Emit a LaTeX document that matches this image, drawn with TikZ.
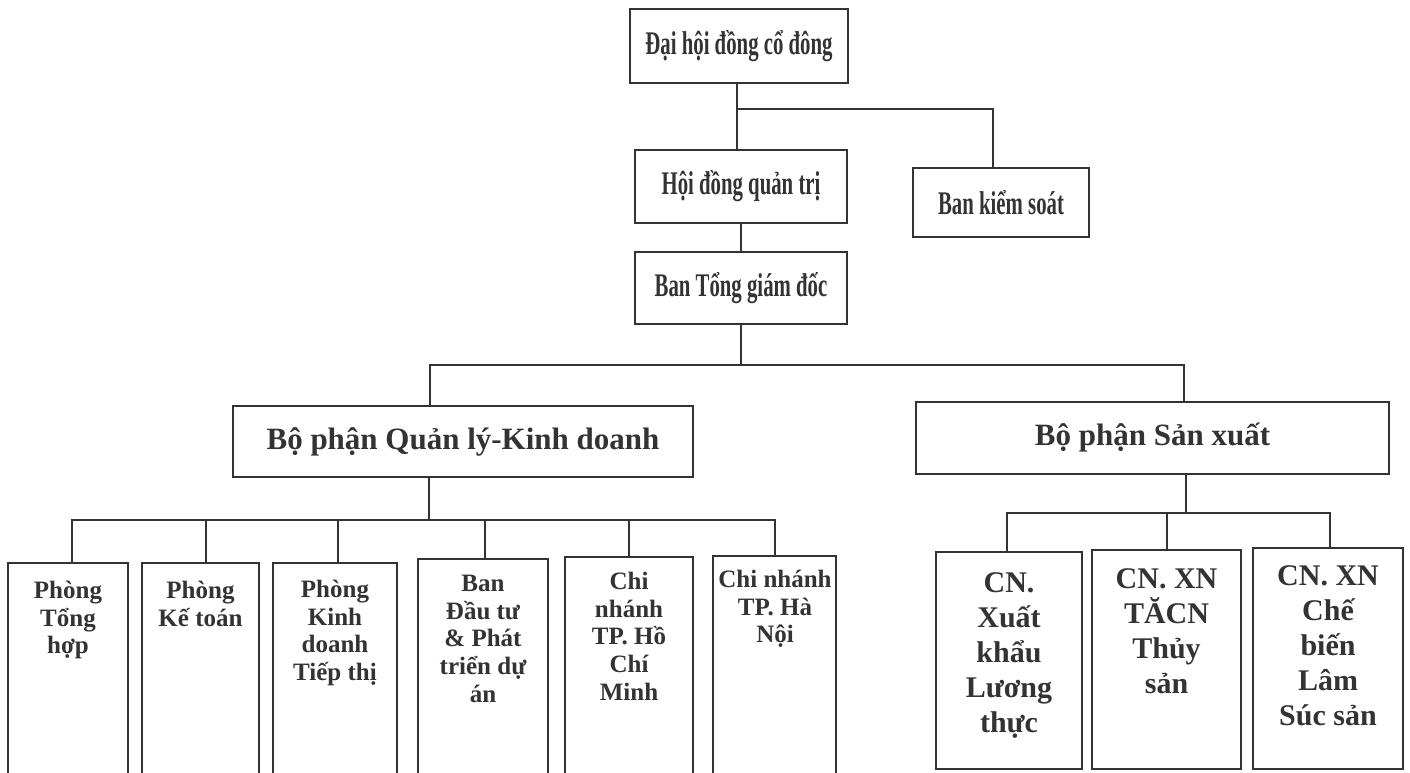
\documentclass[tikz,border=0pt]{standalone}
\usepackage{fontspec}
\setmainfont{Liberation Serif}
\usepackage{graphicx}
\usetikzlibrary{calc}
\definecolor{ink}{HTML}{333333}
\tikzset{
  box/.style={draw=ink, line width=2pt, inner sep=0pt, text=ink},
  conn/.style={draw=ink, line width=2pt},
  toptxt/.style={font=\bfseries\fontsize{33}{37}\selectfont},
  midtxt/.style={font=\bfseries\fontsize{31}{35}\selectfont},
  smalltxt/.style={text=ink, align=center, inner sep=0pt, anchor=north,
                   font=\bfseries\fontsize{25}{27.7}\selectfont},
  bigtxt/.style={text=ink, align=center, inner sep=0pt, anchor=north,
                 font=\bfseries\fontsize{30}{35}\selectfont},
}
\newcommand{\cnd}[1]{\scalebox{0.63}[1]{#1}}
\begin{document}
\begin{tikzpicture}[x=1pt,y=-1pt]
\useasboundingbox (0,0) rectangle (1410,773);
\clip (0,0) rectangle (1410,773);
\fill[white] (0,0) rectangle (1410,773);

% upper tier
\node[box, toptxt, minimum width=218, minimum height=74] (dh) at (739,46) {\cnd{Đại hội đồng cổ đông}};
\node[box, toptxt, minimum width=212, minimum height=73] (hd) at (741,186.5) {\cnd{Hội đồng quản trị}};
\node[box, toptxt, minimum width=176, minimum height=69] (bks) at (1001,202.5) {\cnd{Ban kiểm soát}};
\node[box, toptxt, minimum width=212, minimum height=72] (btg) at (741,288) {\cnd{Ban Tổng giám đốc}};

% middle tier
\node[box, midtxt, minimum width=460, minimum height=71] (qlkd) at (463,441.5) {Bộ phận Quản lý-Kinh doanh};
\node[box, midtxt, minimum width=473, minimum height=72] (sx) at (1152.5,438) {Bộ phận Sản xuất};

% lower tier, left
\node[box, minimum width=120, minimum height=237] (p1) at (68,681.5) {};
\node[box, minimum width=117, minimum height=237] (p2) at (200.5,681.5) {};
\node[box, minimum width=124, minimum height=237] (p3) at (335,681.5) {};
\node[box, minimum width=130, minimum height=241] (p4) at (483,679.5) {};
\node[box, minimum width=128, minimum height=243] (p5) at (629,678.5) {};
\node[box, minimum width=123, minimum height=244] (p6) at (774.5,678) {};

\node[smalltxt] (p1t) at (68,581) {Phòng\\Tổng\\hợp};
\node[smalltxt] (p2t) at (200.5,581) {Phòng\\Kế toán};
\node[smalltxt] (p3t) at (335,580) {Phòng\\Kinh\\doanh\\Tiếp thị};
\node[smalltxt] (p4t) at (483,575) {Ban\\Đầu tư\\\& Phát\\triển dự\\án};
\node[smalltxt] (p5t) at (629,572) {Chi\\nhánh\\TP. Hồ\\Chí\\Minh};
\node[smalltxt] (p6t) at (775,570) {Chi nhánh\\TP. Hà\\Nội};

% lower tier, right
\node[box, minimum width=146, minimum height=217] (ca) at (1009,660.5) {};
\node[box, minimum width=149, minimum height=219] (cb) at (1166.5,659.5) {};
\node[box, minimum width=150, minimum height=221] (cc) at (1328,658.5) {};

\node[bigtxt] (cat) at (1009,572) {CN.\\Xuất\\khẩu\\Lương\\thực};
\node[bigtxt] (cbt) at (1166.5,568) {CN. XN\\TĂCN\\Thủy\\sản};
\node[bigtxt] (cct) at (1328,565) {CN. XN\\Chế\\biến\\Lâm\\Súc sản};

% connectors
\draw[conn] ([xshift=-2]dh.south) -- ([xshift=-2]dh.south |- hd.north);
\coordinate (j1) at ($(dh.south)+(-2,25)$);
\draw[conn] (j1) -| ([xshift=-8]bks.north);
\draw[conn] (hd.south) -- (btg.north);

\draw[conn] (btg.south) -- ++(0,40) coordinate (j2);
\draw[conn] ([xshift=-33]qlkd.north) |- (j2) -| ([xshift=31.5]sx.north);

\draw[conn] ([xshift=-34]qlkd.south) -- ++(0,42) coordinate (j3);
\draw[conn] ([xshift=4]p1.north) |- (j3) -| ([xshift=0.5]p6.north);
\draw[conn] ([xshift=5.5]p2.north) -- ([xshift=5.5]p2.north |- j3);
\draw[conn] ([xshift=3]p3.north) -- ([xshift=3]p3.north |- j3);
\draw[conn] ([xshift=2]p4.north) -- ([xshift=2]p4.north |- j3);
\draw[conn] (p5.north) -- (p5.north |- j3);

\draw[conn] ([xshift=33.5]sx.south) -- ++(0,38) coordinate (j4);
\draw[conn] ([xshift=-2]ca.north) |- (j4) -| ([xshift=2]cc.north);
\draw[conn] ([xshift=0.5]cb.north) -- ([xshift=0.5]cb.north |- j4);
\end{tikzpicture}
\end{document}
